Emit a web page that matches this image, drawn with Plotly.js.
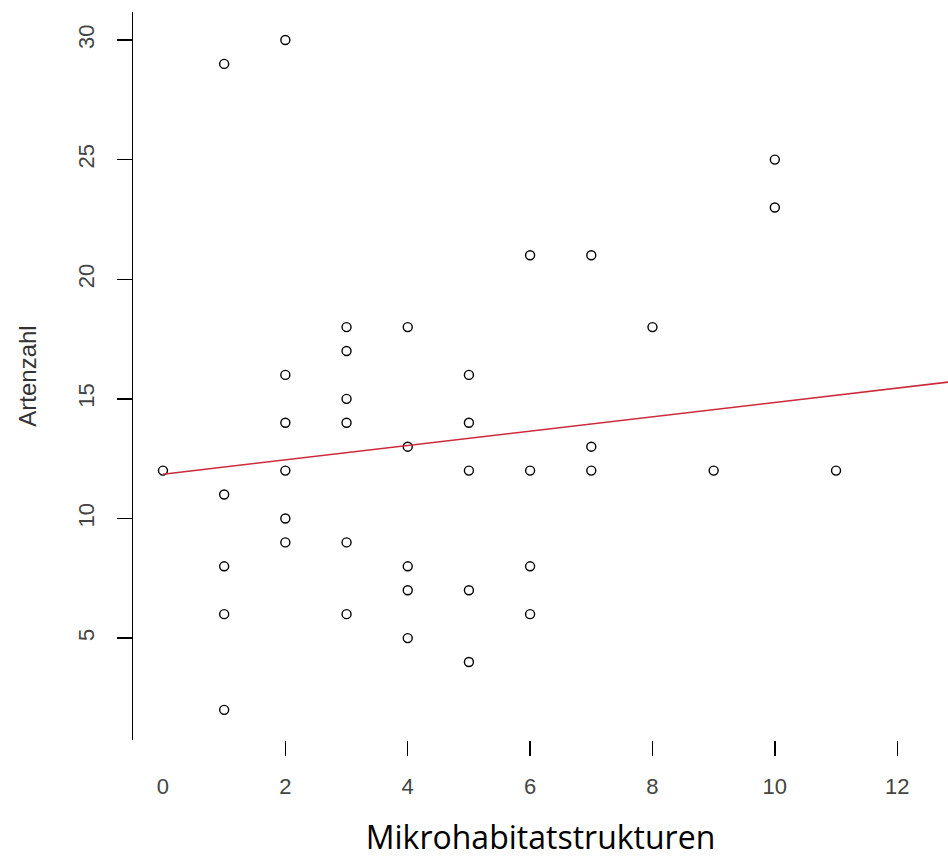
<!DOCTYPE html>
<html>
<head>
<meta charset="utf-8">
<script src="https://cdn.plot.ly/plotly-3.0.1.min.js"></script>
<style>html,body{margin:0;padding:0;background:#fff;}#chart{width:948px;height:858px;}</style>
</head>
<body>
<div id="chart"></div>
<script>
// Observations: Mikrohabitatstrukturen (x) vs Artenzahl (y)
var mikro    = [0, 1, 1, 1, 1, 1, 2, 2, 2, 2, 2, 2, 3, 3, 3, 3, 3, 3, 4, 4, 4, 4, 4, 5, 5, 5, 5, 5, 6, 6, 6, 6, 7, 7, 7, 8, 9, 10, 10, 11];
var artenzahl= [12, 29, 11, 8, 6, 2, 30, 16, 14, 12, 10, 9, 18, 17, 15, 14, 9, 6, 18, 13, 8, 7, 5, 16, 14, 12, 7, 4, 21, 12, 8, 6, 21, 13, 12, 18, 12, 25, 23, 12];
// Regression line endpoints
var fitX = [0, 13];
var fitY = [11.85, 15.75];
// Tick labels
var xTickMarks = [2, 4, 6, 8, 10, 12];
var xTickVals = [0, 2, 4, 6, 8, 10, 12];
var xTickText = ["0", "2", "4", "6", "8", "10", "12"];
var yTickVals = [5, 10, 15, 20, 25, 30];
var yTickText = ["5", "10", "15", "20", "25", "30"];

var xr = [-0.49, 12.83];
var yr = [0.74, 31.17];
var tickFont = {family: "Liberation Sans, Arial, sans-serif", size: 22, color: "#444"};

var traces = [
  {x: fitX, y: fitY, mode: "lines", type: "scatter", xaxis: "x2", yaxis: "y",
   line: {color: "#cc2a3a", width: 1.5}, hoverinfo: "skip", showlegend: false},
  {x: mikro, y: artenzahl, mode: "markers", type: "scatter",
   marker: {symbol: "circle-open", size: 9, color: "#000", line: {width: 1.4, color: "#000"}},
   showlegend: false}
];

var layout = {
  width: 948, height: 858,
  margin: {l: 133, r: 0, t: 12, b: 118},
  paper_bgcolor: "#fff", plot_bgcolor: "#fff",
  showlegend: false,
  xaxis: {
    range: xr, showgrid: false, zeroline: false, showline: false,
    tickmode: "array", tickvals: xTickMarks, ticks: "outside", ticklen: 15,
    tickwidth: 1.4, tickcolor: "#000", showticklabels: false,
    title: {text: ""}
  },
  xaxis2: {
    range: xr, overlaying: "x", side: "bottom", anchor: "y",
    showgrid: false, zeroline: false, showline: false,
    tickmode: "array", tickvals: xTickVals, ticktext: xTickText,
    ticks: "outside", ticklen: 15, tickcolor: "rgba(0,0,0,0)",
    ticklabelstandoff: 12, tickfont: tickFont,
    title: {text: "Mikrohabitatstrukturen", standoff: 30,
            font: {family: "Open Sans, Noto Sans, sans-serif", size: 32, color: "#000"}}
  },
  yaxis: {
    range: yr, showgrid: false, zeroline: false,
    showline: true, linecolor: "#000", linewidth: 1.4,
    tickmode: "array", tickvals: yTickVals, ticktext: yTickText,
    ticks: "outside", ticklen: 15, tickwidth: 1.4, tickcolor: "#000",
    tickangle: -90, tickfont: tickFont, ticklabelstandoff: 14,
    title: {text: "Artenzahl", standoff: 30,
            font: {family: "Liberation Sans, Arial, sans-serif", size: 24, color: "#333"}}
  }
};

Plotly.newPlot("chart", traces, layout, {displayModeBar: false, staticPlot: true});
</script>
</body>
</html>
